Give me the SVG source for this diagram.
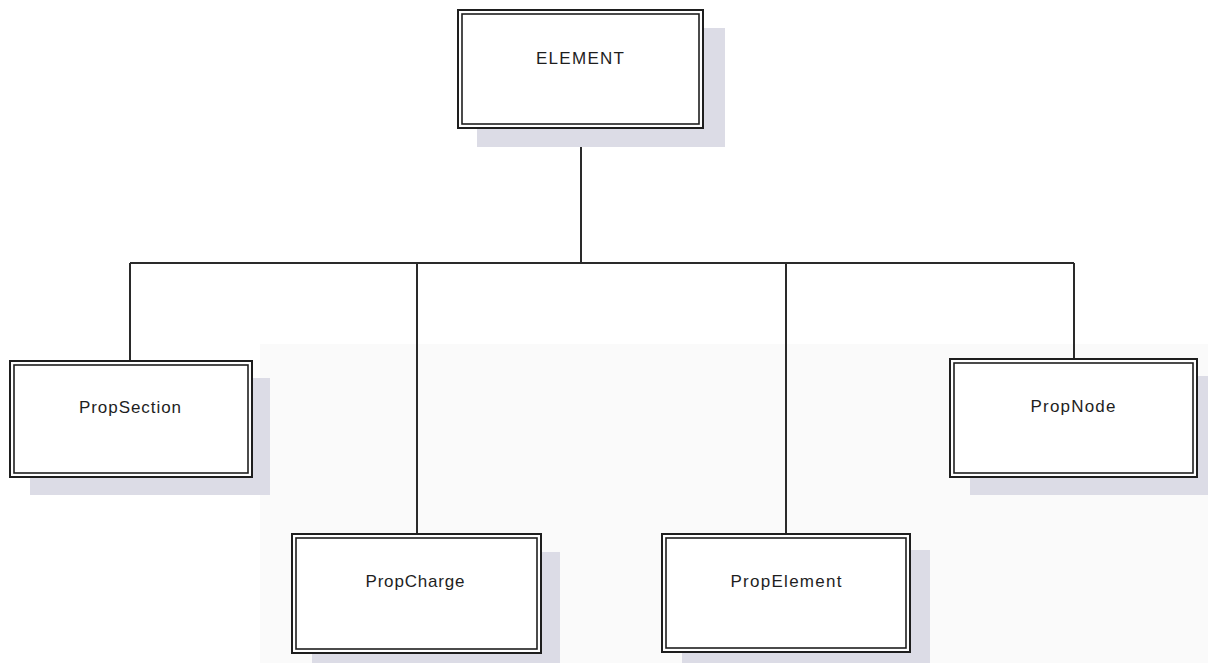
<svg xmlns="http://www.w3.org/2000/svg" width="1208" height="663" viewBox="0 0 1208 663">
  <defs>
    <style>
      .shadow { fill: #dcdce6; }
      .outer { fill: #ffffff; stroke: #1e1e1e; stroke-width: 2; }
      .inner { fill: none; stroke: #1e1e1e; stroke-width: 1.6; }
      .label { font-family: "Liberation Sans", Arial, sans-serif; font-size: 17px; fill: #1e1e1e; text-anchor: middle; }
      .wire { fill: none; stroke: #2a2a2a; stroke-width: 2; }
    </style>
  </defs>

  <rect x="0" y="0" width="1208" height="663" fill="#ffffff"/>
  <!-- faint lower tint -->
  <rect x="260" y="344" width="948" height="319" fill="#fafafa"/>

  <!-- connectors -->
  <g id="connectors">
    <path class="wire" d="M581 128 V263"/>
    <path class="wire" d="M130 263 H1074"/>
    <path class="wire" d="M130 263 V361"/>
    <path class="wire" d="M417 263 V534"/>
    <path class="wire" d="M786 263 V534"/>
    <path class="wire" d="M1074 263 V359"/>
  </g>

  <g id="node-element">
    <rect class="shadow" x="477" y="28" width="248" height="119"/>
    <rect class="outer" x="458" y="10" width="245" height="118"/>
    <rect class="inner" x="462" y="14" width="237" height="110"/>
    <text class="label" x="580" y="64" textLength="88" lengthAdjust="spacing">ELEMENT</text>
  </g>

  <g id="node-propsection">
    <rect class="shadow" x="30" y="378" width="240" height="117"/>
    <rect class="outer" x="10" y="361" width="242" height="116"/>
    <rect class="inner" x="14" y="365" width="234" height="108"/>
    <text class="label" x="130" y="413" textLength="102" lengthAdjust="spacing">PropSection</text>
  </g>

  <g id="node-propcharge">
    <rect class="shadow" x="312" y="552" width="248" height="111"/>
    <rect class="outer" x="292" y="534" width="249" height="119"/>
    <rect class="inner" x="296" y="538" width="241" height="111"/>
    <text class="label" x="415" y="587" textLength="99" lengthAdjust="spacing">PropCharge</text>
  </g>

  <g id="node-propelement">
    <rect class="shadow" x="682" y="550" width="248" height="113"/>
    <rect class="outer" x="662" y="534" width="248" height="118"/>
    <rect class="inner" x="666" y="538" width="240" height="110"/>
    <text class="label" x="786" y="587" textLength="111" lengthAdjust="spacing">PropElement</text>
  </g>

  <g id="node-propnode">
    <rect class="shadow" x="970" y="376" width="250" height="119"/>
    <rect class="outer" x="950" y="359" width="247" height="118"/>
    <rect class="inner" x="954" y="363" width="239" height="110"/>
    <text class="label" x="1073" y="412" textLength="85" lengthAdjust="spacing">PropNode</text>
  </g>
</svg>
